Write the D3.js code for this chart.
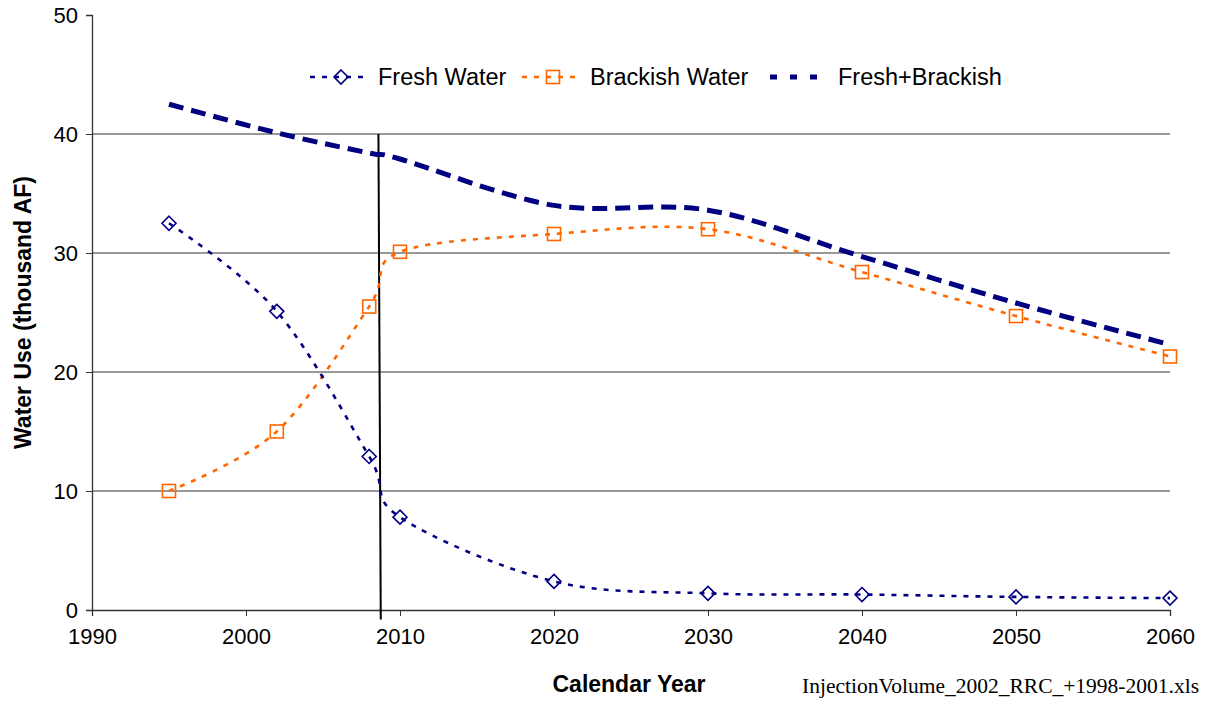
<!DOCTYPE html>
<html><head><meta charset="utf-8">
<script src="https://cdn.jsdelivr.net/npm/d3@7"></script>
<style>body{margin:0;background:#fff;} svg{display:block;}</style>
</head><body><svg id="c" width="1207" height="702"></svg>
<script>
const years = [1995, 2002, 2008, 2010, 2020, 2030, 2040, 2050, 2060];
const fresh = [32.5, 25.1, 12.9, 7.8, 2.4, 1.4, 1.3, 1.1, 1.0];
const brackish = [10.0, 15.0, 25.5, 30.1, 31.6, 32.0, 28.4, 24.7, 21.3];
const total = [42.5, 40.1, 38.4, 37.9, 34.0, 33.6, 29.7, 25.8, 22.3];
const xTicks = [1990, 2000, 2010, 2020, 2030, 2040, 2050, 2060];
const yTicks = [0, 10, 20, 30, 40, 50];
const markerLineYears = [2008.6, 2008.75];
const markerLineValues = [40, -0.8];

const svg = d3.select("#c");
const W = 1207, H = 702;
const m = {l: 92, r: 37, t: 15, b: 92};
const x = d3.scaleLinear().domain([1990, 2060]).range([m.l, W - m.r]);
const y = d3.scaleLinear().domain([0, 50]).range([H - m.b, m.t]);
const font = "'Liberation Sans', Arial, sans-serif";

// gridlines
svg.append("g").selectAll("line").data(yTicks.filter(d => d > 0 && d < 50)).join("line")
  .attr("x1", x(1990)).attr("x2", x(2060)).attr("y1", d => y(d)).attr("y2", d => y(d))
  .attr("stroke", "#333").attr("stroke-width", 1);

// axes
const yAxis = svg.append("g").attr("transform", `translate(${x(1990)},0)`)
  .call(d3.axisLeft(y).tickValues(yTicks).tickSize(6).tickPadding(8));
const xAxis = svg.append("g").attr("transform", `translate(0,${y(0)})`)
  .call(d3.axisBottom(x).tickValues(xTicks).tickFormat(d3.format("d")).tickSize(6).tickPadding(12));
[yAxis, xAxis].forEach(a => {
  a.select(".domain").attr("stroke", "#333").attr("stroke-width", 1.3);
  a.selectAll(".tick line").attr("stroke", "#333");
  a.selectAll("text").attr("font-family", font).attr("font-size", 22).attr("fill", "#000");
});

const line = d3.line().x(d => x(d[0])).y(d => y(d[1])).curve(d3.curveCatmullRom.alpha(0));
const zip = v => years.map((yr, i) => [yr, v[i]]);

// vertical marker line
svg.append("path").datum(markerLineYears.map((yr, i) => [yr, markerLineValues[i]]))
  .attr("d", d3.line().x(d => x(d[0])).y(d => y(d[1])))
  .attr("stroke", "#000").attr("stroke-width", 2).attr("fill", "none");

const navy = "#000080", orange = "#FF6600";
svg.append("path").datum(zip(total)).attr("d", line)
  .attr("fill", "none").attr("stroke", navy).attr("stroke-width", 5).attr("stroke-dasharray", "15,8");
svg.append("path").datum(zip(brackish)).attr("d", line)
  .attr("fill", "none").attr("stroke", orange).attr("stroke-width", 2.6).attr("stroke-dasharray", "5,7");
svg.append("path").datum(zip(fresh)).attr("d", line)
  .attr("fill", "none").attr("stroke", navy).attr("stroke-width", 2.6).attr("stroke-dasharray", "5,7");

const diamond = (g, cx, cy) => g.append("path")
  .attr("d", `M${cx},${cy-7}L${cx+7},${cy}L${cx},${cy+7}L${cx-7},${cy}Z`)
  .attr("fill", "none").attr("stroke", navy).attr("stroke-width", 1.6);
const square = (g, cx, cy) => g.append("rect")
  .attr("x", cx - 6.5).attr("y", cy - 6.5).attr("width", 13).attr("height", 13)
  .attr("fill", "none").attr("stroke", orange).attr("stroke-width", 1.6);

const mk = svg.append("g");
years.forEach((yr, i) => { square(mk, x(yr), y(brackish[i])); });
years.forEach((yr, i) => { diamond(mk, x(yr), y(fresh[i])); });

// legend
const lg = svg.append("g");
const ly = 77;
const items = [
  {x0: 310, label: "Fresh Water", color: navy, w: 2.6, dash: "5,7", m: "d"},
  {x0: 522, label: "Brackish Water", color: orange, w: 2.6, dash: "5,7", m: "s"},
  {x0: 770, label: "Fresh+Brackish", color: navy, w: 5, dash: "7,13", m: null}
];
items.forEach(it => {
  lg.append("line").attr("x1", it.x0).attr("x2", it.x0 + 60).attr("y1", ly).attr("y2", ly)
    .attr("stroke", it.color).attr("stroke-width", it.w).attr("stroke-dasharray", it.dash);
  if (it.m === "d") diamond(lg, it.x0 + 31, ly);
  if (it.m === "s") square(lg, it.x0 + 31, ly);
  lg.append("text").attr("x", it.x0 + 68).attr("y", ly + 8).text(it.label)
    .attr("font-family", font).attr("font-size", 23.5).attr("fill", "#000");
});

// axis titles
svg.append("text").attr("transform", `translate(31,${(y(0)+y(50))/2}) rotate(-90)`)
  .attr("text-anchor", "middle").attr("font-family", font).attr("font-weight", "bold")
  .attr("font-size", 23).text("Water Use (thousand AF)");
svg.append("text").attr("x", 629).attr("y", 692).attr("text-anchor", "middle")
  .attr("font-family", font).attr("font-weight", "bold").attr("font-size", 23).text("Calendar Year");
svg.append("text").attr("x", 1199).attr("y", 693).attr("text-anchor", "end")
  .attr("font-family", "'Liberation Serif', 'Times New Roman', serif").attr("font-size", 21.5)
  .text("InjectionVolume_2002_RRC_+1998-2001.xls");
</script></body></html>
